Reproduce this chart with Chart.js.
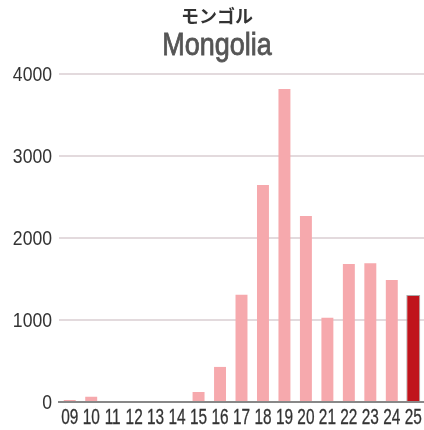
<!DOCTYPE html>
<html lang="ja">
<head>
    <meta charset="UTF-8">
    <title>Mongolia</title>
    <style>
        html, body { margin: 0; padding: 0; background: #fff; }
    </style>
</head>
<body>
    <canvas id="chart" width="424" height="430"></canvas>
    <script src="https://cdn.jsdelivr.net/npm/chart.js"></script>
    <script>
        // Data
        const years = ["09", "10", "11", "12", "13", "14", "15", "16", "17", "18", "19", "20", "21", "22", "23", "24", "25"];
        const values = [35, 75, 0, 0, 0, 0, 135, 440, 1320, 2660, 3830, 2280, 1040, 1695, 1705, 1500, 1305];
        const yTicks = [0, 1000, 2000, 3000, 4000];
        const titleJa = 'モンゴル';
        const titleEn = 'Mongolia';

        // last bar highlighted in dark red
        const colors = values.map((v, i) => i === values.length - 1 ? '#c0141c' : '#f6a9ad');
        const borders = values.map((v, i) => i === values.length - 1 ? '#aaaaaa' : 'rgba(0,0,0,0)');

        // draw text squeezed horizontally (the original uses a condensed face)
        function narrowText(ctx, str, x, y, font, sx, align, color, stroke) {
            ctx.save();
            ctx.font = font;
            ctx.fillStyle = color;
            ctx.textAlign = align;
            ctx.textBaseline = 'alphabetic';
            ctx.translate(x, y);
            ctx.scale(sx, 1);
            ctx.fillText(str, 0, 0);
            if (stroke) {
                // a little extra weight
                ctx.strokeStyle = color;
                ctx.lineWidth = stroke;
                ctx.strokeText(str, 0, 0);
            }
            ctx.restore();
        }

        const labelPlugin = {
            id: 'labels',
            afterDraw(chart) {
                const ctx = chart.ctx;
                const xs = chart.scales.x, ys = chart.scales.y;
                // titles
                narrowText(ctx, titleJa, 217, 23, "bold 18px 'Noto Sans CJK JP', sans-serif", 1, 'center', '#333');
                narrowText(ctx, titleEn, 217, 55, "31px 'Liberation Sans', Arial, sans-serif", 0.87, 'center', '#555', 0.8);
                // category labels
                years.forEach((y, i) => {
                    narrowText(ctx, y, xs.getPixelForValue(i), 424, "22px 'Liberation Sans', Arial, sans-serif", 0.7, 'center', '#333', 0.3);
                });
                // value labels
                yTicks.forEach(v => {
                    narrowText(ctx, String(v), 52, ys.getPixelForValue(v) + 7, "20px 'Liberation Sans', Arial, sans-serif", 0.88, 'right', '#333');
                });
            }
        };

        new Chart(document.getElementById('chart'), {
            type: 'bar',
            data: {
                labels: years,
                datasets: [{
                    data: values,
                    backgroundColor: colors,
                    borderColor: borders,
                    borderWidth: 1,
                    categoryPercentage: 1,
                    barPercentage: 0.65
                }]
            },
            plugins: [labelPlugin],
            options: {
                responsive: false,
                animation: false,
                layout: { padding: { left: 0, right: 0, top: 74, bottom: 0 } },
                plugins: {
                    legend: { display: false },
                    tooltip: { enabled: false },
                    title: { display: false }
                },
                scales: {
                    x: {
                        afterFit: s => { s.height = 28; },
                        grid: { display: false, drawTicks: false },
                        border: { color: '#888', width: 2 },
                        ticks: { display: false }
                    },
                    y: {
                        min: 0,
                        max: 4000,
                        afterFit: s => { s.width = 59; },
                        afterBuildTicks: axis => { axis.ticks = yTicks.map(v => ({ value: v })); },
                        grid: { color: '#e3dadd', lineWidth: 2, drawTicks: false },
                        border: { display: false },
                        ticks: { display: false }
                    }
                }
            }
        });
    </script>
</body>
</html>
